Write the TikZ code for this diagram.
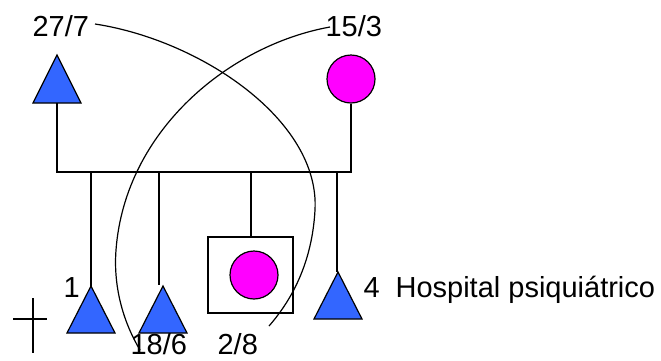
\documentclass[tikz,border=0pt]{standalone}
\usepackage{fontspec}
\setmainfont{Liberation Sans}
\definecolor{triblue}{RGB}{51,102,255}
\definecolor{magen}{RGB}{255,0,255}
\begin{document}
\begin{tikzpicture}[x=1pt,y=-1pt,line width=1.2pt,
  male/.style={draw=black,fill=triblue,line join=miter},
  female/.style={draw=black,fill=magen,circle,minimum size=48pt,inner sep=0pt},
  lbl/.style={anchor=base west,inner sep=0pt,font=\fontsize{29}{31}\selectfont},
  link/.style={draw=black}]
\useasboundingbox (0,0) rectangle (661,360);
% parents
\coordinate (fa) at (57,55);
\path[male] (fa) -- (81,103) -- (33,103) -- cycle;
\coordinate (fab) at (57,103);
\node[female] (mo) at (351,79) {};
% sibship line
\coordinate (sl) at (57,172);
\coordinate (sr) at (351,172);
\draw[link] (fab) -- (sl) -- (sr) -- (mo.south);
% children
\coordinate (c1) at (91,286);
\path[male] (c1) -- (115,333) -- (67,333) -- cycle;
\coordinate (c2) at (163,286);
\path[male] (c2) -- (187,333) -- (139,333) -- cycle;
\coordinate (c2t) at (159,285);
\node[draw=black,minimum width=85pt,minimum height=76pt,inner sep=0pt] (box) at (250.5,275) {};
\node[female] (c3) at (254,275) {};
\coordinate (c4) at (338,272);
\path[male] (c4) -- (362,319) -- (314,319) -- cycle;
\draw[link] (91,172) -- (c1);
\draw[link] (159,172) -- (c2t);
\draw[link] (251,172) -- (box.north -| 251,0);
\draw[link] (337,172) -- (337,272);
% cross
\draw[link] (33,298) -- (33,353);
\draw[link] (13,319) -- (47,319);
% labels
\node[lbl] (l277) at (32,36) {27/7};
\node[lbl] (l153) at (325,36) {15/3};
\node[lbl] (l1) at (63,297) {1};
\node[lbl] (l186) at (130,354) {18/6};
\node[lbl] (l28) at (217,354) {2/8};
\node[lbl] (l4) at (363,297) {4};
\node[lbl] (lhp) at (395,297) {Hospital psiquiátrico};
% curves
\draw[link] (95,24) .. controls (200,40) and (320,120) .. (315,210)
  .. controls (312,265) and (290,302) .. (269,326);
\draw[link] (330,27) .. controls (230,45) and (125,130) .. (116,250)
  .. controls (113,290) and (125,325) .. (140,350);
\end{tikzpicture}
\end{document}
